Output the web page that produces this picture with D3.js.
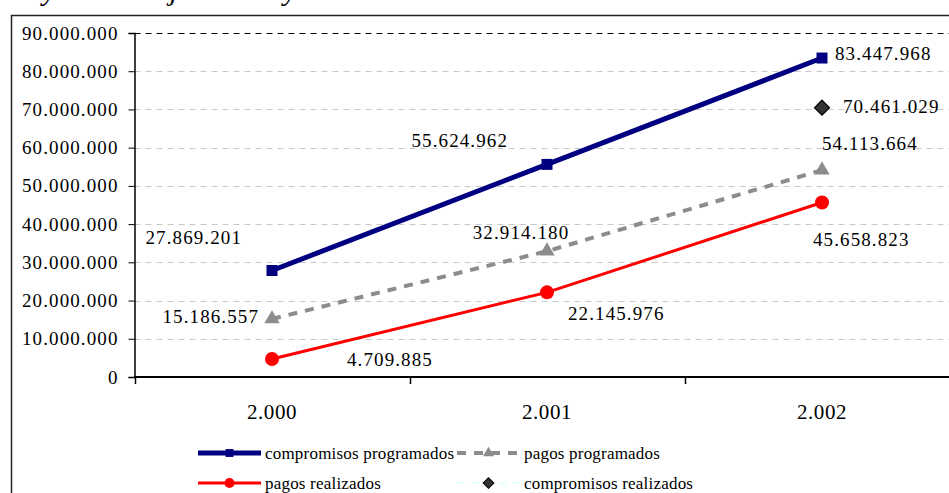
<!DOCTYPE html>
<html>
<head>
<meta charset="utf-8">
<script src="https://cdn.jsdelivr.net/npm/d3@7"></script>
<style>
    html, body { margin: 0; padding: 0; background: #fff; overflow: hidden; }
    svg { display: block; font-family: 'Times New Roman', 'Liberation Serif', serif; }
</style>
</head>
<body>
<svg width="949" height="493"></svg>
<script>
'use strict';

// data
const YEARS = ['2.000', '2.001', '2.002'];
const COMPROMISOS_PROGRAMADOS = [27869201, 55624962, 83447968];
const PAGOS_PROGRAMADOS = [15186557, 32914180, 54113664];
const PAGOS_REALIZADOS = [4709885, 22145976, 45658823];
const COMPROMISOS_REALIZADOS = [null, null, 70461029];
const Y_TICKS = [0, 10000000, 20000000, 30000000, 40000000, 50000000, 60000000, 70000000, 80000000, 90000000];

// where each value label sits relative to its point: [anchor, dx, dy]
const LABEL_OFFSETS = {
    cp: [['end', -30, -33], ['end', -39, -24], ['start', 13, -5]],
    pp: [['end', -13, -2], ['middle', -26, -19], ['start', 0, -27]],
    pr: [['start', 75, 1], ['start', 21, 21], ['start', -9, 37]],
    cr: [null, null, ['start', 21, -1]],
};

const FONT = "'Times New Roman', 'Liberation Serif', serif";
const svg = d3.select('svg');
const fmt = (v) => d3.format(',')(v).replace(/,/g, '.');

const LEFT = 134.5;
const BAND = 275;

// scales
const x = d3.scaleBand().domain(YEARS).range([LEFT, LEFT + BAND * YEARS.length]);
const y = d3.scaleLinear().domain([0, 90000000]).range([377, 33]);
const cx = (d) => x(d) + x.bandwidth() / 2;

// cut-off title, only the descenders show
const title = svg.append('text')
    .attr('y', 0)
    .attr('font-style', 'italic')
    .attr('font-size', 30)
    .attr('fill', '#000');
[['Evolución y', 56, 'end'], [' monto ej', 178, 'end'], ['ecutado y', 297, 'end'], [' realizado', 298, 'start']]
    .forEach(([t, tx, a]) => title.append('tspan').attr('x', tx).attr('text-anchor', a).text(t));

// outer frame
svg.append('rect')
    .attr('x', 11.5).attr('y', 15.5)
    .attr('width', 1000).attr('height', 600)
    .attr('fill', 'none')
    .attr('stroke', '#222')
    .attr('stroke-width', 1.5);

// grid
svg.append('g')
    .selectAll('line')
    .data(Y_TICKS.filter((t) => t > 0))
    .join('line')
    .attr('x1', LEFT).attr('x2', 949)
    .attr('y1', (d) => Math.round(y(d)) + 0.5)
    .attr('y2', (d) => Math.round(y(d)) + 0.5)
    .attr('stroke', (d) => (d === 90000000 ? '#000' : '#c8c8c8'))
    .attr('stroke-width', 1)
    .attr('stroke-dasharray', '6,5');

// y axis
const yAxis = svg.append('g')
    .attr('transform', `translate(${LEFT},0)`)
    .call(d3.axisLeft(y).tickValues(Y_TICKS).tickSize(6).tickPadding(10).tickFormat(fmt));
yAxis.select('.domain').attr('stroke', '#000').attr('stroke-width', 1.5);
yAxis.selectAll('.tick line').attr('stroke', '#000');
yAxis.selectAll('.tick text')
    .attr('font-family', FONT)
    .attr('font-size', 19)
    .attr('letter-spacing', 1.1)
    .attr('fill', '#000');

// x axis
const xAxis = svg.append('g')
    .attr('transform', `translate(0,${y(0)})`)
    .call(d3.axisBottom(x).tickSize(0).tickPadding(27));
xAxis.select('.domain').remove();
xAxis.append('line')
    .attr('x1', LEFT).attr('x2', 949)
    .attr('stroke', '#000').attr('stroke-width', 2);
xAxis.selectAll('.bound')
    .data(YEARS)
    .join('line')
    .attr('class', 'bound')
    .attr('x1', (d) => Math.round(x(d)) + 0.5)
    .attr('x2', (d) => Math.round(x(d)) + 0.5)
    .attr('y1', 0).attr('y2', 7)
    .attr('stroke', '#000').attr('stroke-width', 1.5);
xAxis.selectAll('.tick text')
    .attr('font-family', FONT)
    .attr('font-size', 21)
    .attr('letter-spacing', 0.6)
    .attr('fill', '#000');

// symbols
const sym = {
    square: (s) => d3.symbol(d3.symbolSquare, s * s)(),
    triangle: (s) => d3.symbol(d3.symbolTriangle, s * s * 0.45)(),
    circle: (s) => d3.symbol(d3.symbolCircle, Math.PI * s * s / 4)(),
    diamond: (s) => d3.symbol(d3.symbolSquare, s * s / 2)(),
};

const SERIES = [
    { key: 'cp', name: 'compromisos programados', values: COMPROMISOS_PROGRAMADOS, color: '#000080', width: 5, dash: null, shape: 'square', size: 11, fill: '#000080', stroke: 'none', rot: 0 },
    { key: 'pp', name: 'pagos programados', values: PAGOS_PROGRAMADOS, color: '#8c8c8c', width: 4, dash: '9,8', shape: 'triangle', size: 15, fill: '#8c8c8c', stroke: 'none', rot: 0 },
    { key: 'pr', name: 'pagos realizados', values: PAGOS_REALIZADOS, color: '#ff0000', width: 3, dash: null, shape: 'circle', size: 14, fill: '#ff0000', stroke: 'none', rot: 0 },
    { key: 'cr', name: 'compromisos realizados', values: COMPROMISOS_REALIZADOS, color: '#ccffff', width: 1, dash: '8,6', shape: 'diamond', size: 15, fill: '#333', stroke: '#000', rot: 45 },
];

const line = d3.line()
    .defined((d) => d.v !== null)
    .x((d) => cx(d.year))
    .y((d) => y(d.v));

SERIES.forEach((s) => {
    const pts = YEARS.map((year, i) => ({ year, v: s.values[i], i }));
    svg.append('path')
        .datum(pts)
        .attr('fill', 'none')
        .attr('stroke', s.color)
        .attr('stroke-width', s.width)
        .attr('stroke-dasharray', s.dash)
        .attr('d', line);

    const valid = pts.filter((d) => d.v !== null);
    svg.append('g')
        .selectAll('path')
        .data(valid)
        .join('path')
        .attr('d', sym[s.shape](s.size))
        .attr('transform', (d) => `translate(${cx(d.year)},${y(d.v)}) rotate(${s.rot})`)
        .attr('fill', s.fill)
        .attr('stroke', s.stroke)
        .attr('stroke-width', 1.2);

    svg.append('g')
        .selectAll('text')
        .data(valid)
        .join('text')
        .attr('x', (d) => cx(d.year) + LABEL_OFFSETS[s.key][d.i][1])
        .attr('y', (d) => y(d.v) + LABEL_OFFSETS[s.key][d.i][2])
        .attr('text-anchor', (d) => LABEL_OFFSETS[s.key][d.i][0])
        .attr('dominant-baseline', 'central')
        .attr('font-size', 19)
        .attr('letter-spacing', 1.1)
        .attr('fill', '#000')
        .text((d) => fmt(d.v));
});

// legend, two rows of two
const LEGEND_POS = [[198, 453], [457, 453], [198, 483], [457, 483]];
const legend = svg.append('g');
SERIES.forEach((s, i) => {
    const [lx, ly] = LEGEND_POS[i];
    const g = legend.append('g').attr('transform', `translate(${lx},${ly})`);
    g.append('line')
        .attr('x1', 0).attr('x2', 63)
        .attr('stroke', s.color)
        .attr('stroke-width', s.width)
        .attr('stroke-dasharray', s.dash);
    g.append('path')
        .attr('d', sym[s.shape](s.size * 0.72))
        .attr('transform', `translate(31.5,0) rotate(${s.rot})`)
        .attr('fill', s.fill)
        .attr('stroke', s.stroke)
        .attr('stroke-width', 1);
    g.append('text')
        .attr('x', 67)
        .attr('dominant-baseline', 'central')
        .attr('font-size', 17)
        .attr('letter-spacing', 0.2)
        .attr('fill', '#000')
        .text(s.name);
});
</script>
</body>
</html>
